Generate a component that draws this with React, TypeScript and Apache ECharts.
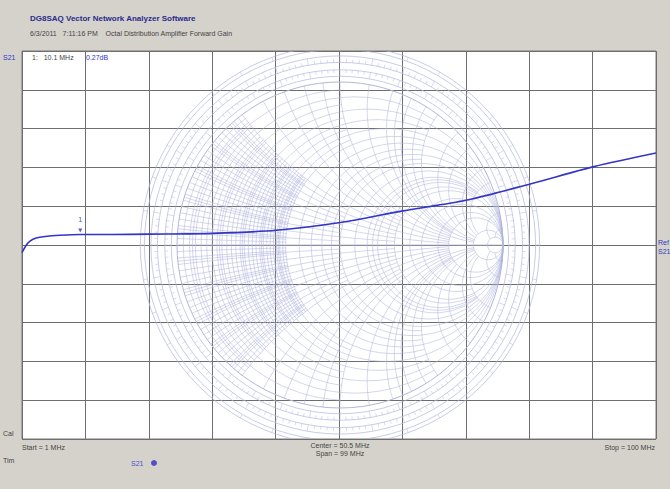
import React, { useEffect, useRef } from "react";
import * as echarts from "echarts";

// Trace: S21 magnitude (dB) vs frequency (MHz)
const freqMHz = [1, 1.6, 2.25, 3.2, 4.6, 6.9, 10.1, 15, 20.8, 30.8, 40.7, 50.7, 60.5, 70.5, 80.5, 90.3, 100];
const gainDb = [-0.2, -0.02, 0.1, 0.18, 0.22, 0.25, 0.27, 0.27, 0.28, 0.3, 0.38, 0.58, 0.88, 1.16, 1.58, 2.02, 2.37];

// marker
const markerFreq = 10.1;
const markerDb = 0.27;

// Smith chart background (printed chart): [value, limit] pairs
// constant-resistance lines: [r, max |x|]  (Infinity = full circle)
const smithR: [number, number][] = [
  [0.2, Infinity], [0.4, Infinity], [0.6, Infinity], [0.8, Infinity], [1, Infinity], [1.5, Infinity], [2, Infinity], [3, Infinity], [4, Infinity], [5, Infinity], [10, Infinity], [20, Infinity],
  [0.1, 2], [0.3, 2], [0.5, 2], [0.7, 2], [0.9, 2],
  [0.05, 1], [0.15, 1], [0.25, 1], [0.35, 1], [0.45, 1],
  [1.2, 5], [1.4, 5], [1.6, 5], [1.8, 5], [2.5, 5],
  [0.02, 0.5], [0.04, 0.5], [0.06, 0.5], [0.08, 0.5], [0.12, 0.5], [0.14, 0.5], [0.16, 0.5], [0.18, 0.5], [0.22, 0.5], [0.24, 0.5], [0.26, 0.5], [0.28, 0.5], [0.32, 0.5], [0.34, 0.5], [0.36, 0.5], [0.38, 0.5], [0.42, 0.5], [0.44, 0.5], [0.46, 0.5], [0.48, 0.5],
];
// constant-reactance lines: [|x|, max r]
const smithX: [number, number][] = [
  [0.2, 5], [0.4, 5], [0.6, 5], [0.8, 5], [1, 10], [1.5, 10], [2, 10], [3, 10], [4, 10], [5, 10], [10, 20], [20, 20],
  [0.1, 2], [0.3, 2], [0.5, 2], [0.7, 2], [0.9, 2],
  [0.05, 1], [0.15, 1], [0.25, 1], [0.35, 1], [0.45, 1],
  [1.2, 5], [1.4, 5], [1.6, 5], [1.8, 5], [2.5, 5],
  [0.02, 0.5], [0.04, 0.5], [0.06, 0.5], [0.08, 0.5], [0.12, 0.5], [0.14, 0.5], [0.16, 0.5], [0.18, 0.5], [0.22, 0.5], [0.24, 0.5], [0.26, 0.5], [0.28, 0.5], [0.32, 0.5], [0.34, 0.5], [0.36, 0.5], [0.38, 0.5], [0.42, 0.5], [0.44, 0.5], [0.46, 0.5], [0.48, 0.5],
];
const smithRings = [1, 1.035, 1.075, 1.12, 1.16, 1.2, 1.225];

const titleText = "DG8SAQ Vector Network Analyzer Software";
const subTitleText = "6/3/2011   7:11:16 PM    Octal Distribution Amplifier Forward Gain";

export default function App() {
  const ref = useRef<HTMLDivElement>(null);
  useEffect(() => {
    document.body.style.margin = "0";
    const chart = echarts.init(ref.current!, null, { renderer: "svg" });
    const L = 22, T = 51, W = 634, H = 388;
    const cx = 340, cy = 245, Rpx = 163;
    const sx0 = -(cx - L) / Rpx, sx1 = (L + W - cx) / Rpx;
    const sy1 = (cy - T) / Rpx, sy0 = -(T + H - cy) / Rpx;
    const smithColor = "#b0b6dc";
    const font = "Liberation Sans";

    const gamma = (r: number, x: number) => {
      const d = (r + 1) * (r + 1) + x * x;
      return [(r * r + x * x - 1) / d, (2 * x) / d];
    };

    const renderSmith = (params: any, api: any) => {
      const c = api.coord([0, 0]);
      const R = api.size([1, 0])[0];
      const P = (g: number[]) => [c[0] + R * g[0], c[1] - R * g[1]];
      const children: any[] = [];
      const st = { stroke: smithColor, fill: "none", lineWidth: 0.55 };
      smithRings.forEach((k, i) => {
        children.push({ type: "circle", shape: { cx: c[0], cy: c[1], r: R * k }, style: { ...st, lineWidth: i === 0 ? 1 : 0.7 } });
      });
      for (let a = 0; a < 360; a += 2) {
        const rad = (a * Math.PI) / 180;
        const seg = (r1: number, r2: number) =>
          children.push({ type: "line", shape: { x1: c[0] + R * r1 * Math.cos(rad), y1: c[1] + R * r1 * Math.sin(rad), x2: c[0] + R * r2 * Math.cos(rad), y2: c[1] + R * r2 * Math.sin(rad) }, style: { stroke: smithColor, lineWidth: 0.5 } });
        seg(a % 10 === 0 ? smithRings[1] : smithRings[2] - 0.02, smithRings[2]);
        seg(smithRings[3], a % 10 === 0 ? smithRings[4] : smithRings[3] + 0.02);
        if (a % 10 === 0) seg(smithRings[5], smithRings[6]);
      }
      children.push({ type: "line", shape: { x1: c[0] - R, y1: c[1], x2: c[0] + R, y2: c[1] }, style: { stroke: smithColor, lineWidth: 0.8 } });
      const N = 48;
      smithR.forEach(([r, xm]) => {
        if (!isFinite(xm)) {
          children.push({ type: "circle", shape: { cx: c[0] + R * (r / (1 + r)), cy: c[1], r: R / (1 + r) }, style: st });
        } else {
          const pts: number[][] = [];
          const pm = Math.atan(xm);
          for (let i = 0; i <= N; i++) {
            const x = Math.tan(-pm + (2 * pm * i) / N);
            pts.push(P(gamma(r, x)));
          }
          children.push({ type: "polyline", shape: { points: pts }, style: st });
        }
      });
      smithX.forEach(([x, rm]) => {
        const pm = Math.atan(rm);
        [1, -1].forEach((s) => {
          const pts: number[][] = [];
          for (let i = 0; i <= N; i++) {
            const r = Math.tan((pm * i) / N);
            pts.push(P(gamma(r, s * x)));
          }
          children.push({ type: "polyline", shape: { points: pts }, style: st });
        });
      });
      return { type: "group", children };
    };

    const txt = (x: number, y: number, text: string, opts: any = {}) => ({
      type: "text",
      x,
      y,
      z: 100,
      style: { text, fill: opts.fill || "#333", font: `${opts.bold ? "bold " : ""}${opts.size || 7}px ${font}`, textAlign: opts.align || "left", textVerticalAlign: "middle" },
    });

    chart.setOption({
      animation: false,
      backgroundColor: "#d5d2cc",
      grid: [
        { left: L, top: T, width: W, height: H, show: true, backgroundColor: "#ffffff", borderColor: "#7a7a7a", borderWidth: 1 },
        { left: L, top: T, width: W, height: H, show: false },
      ],
      xAxis: [
        { type: "value", gridIndex: 0, min: 1, max: 100, show: false },
        { type: "value", gridIndex: 0, min: 0, max: 10, interval: 1, axisLine: { show: false }, axisTick: { show: false }, axisLabel: { show: false }, splitLine: { show: true, lineStyle: { color: "#6e6e6e", width: 1 } } },
        { type: "value", gridIndex: 1, min: sx0, max: sx1, show: false, splitLine: { show: false } },
      ],
      yAxis: [
        { type: "value", gridIndex: 0, min: -5, max: 5, interval: 1, axisLine: { show: false }, axisTick: { show: false }, axisLabel: { show: false }, splitLine: { show: true, lineStyle: { color: "#6e6e6e", width: 1 } } },
        { type: "value", gridIndex: 1, min: sy0, max: sy1, show: false, splitLine: { show: false } },
      ],
      series: [
        { type: "custom", xAxisIndex: 2, yAxisIndex: 1, data: [[0, 0]], renderItem: renderSmith, clip: true, silent: true, z: 1 },
        {
          type: "line",
          xAxisIndex: 0,
          yAxisIndex: 0,
          data: freqMHz.map((f, i) => [f, gainDb[i]]),
          smooth: 0.3,
          showSymbol: false,
          lineStyle: { color: "#3434c8", width: 1.6 },
          z: 5,
        },
        {
          type: "scatter",
          xAxisIndex: 0,
          yAxisIndex: 0,
          data: [[markerFreq, markerDb]],
          symbol: "triangle",
          symbolRotate: 180,
          symbolSize: 4,
          symbolOffset: [0, -4],
          itemStyle: { color: "#3434c8" },
          label: { show: true, formatter: "1", position: "top", distance: 5, color: "#3434c8", fontSize: 8, fontFamily: font },
          z: 6,
        },
      ],
      graphic: [
        txt(30, 18, titleText, { bold: true, fill: "#2a2a8a", size: 8 }),
        txt(30, 33, subTitleText, { fill: "#444" }),
        txt(3, 57, "S21", { fill: "#3434c8" }),
        txt(32, 57, "1:   10.1 MHz", { fill: "#444" }),
        txt(86, 57, "0.27dB", { fill: "#3434c8" }),
        txt(3, 433, "Cal", { fill: "#444" }),
        txt(22, 447, "Start = 1 MHz", { fill: "#444" }),
        txt(340, 445, "Center = 50.5 MHz", { fill: "#444", align: "center" }),
        txt(340, 453, "Span = 99 MHz", { fill: "#444", align: "center" }),
        txt(655, 447, "Stop = 100 MHz", { fill: "#444", align: "right" }),
        txt(3, 460, "Tim", { fill: "#444" }),
        txt(131, 463, "S21", { fill: "#5050c8", size: 7 }),
        { type: "circle", z: 100, shape: { cx: 154, cy: 463, r: 3 }, style: { fill: "#5050c8" } },
        txt(658, 242, "Ref", { fill: "#3434c8" }),
        txt(658, 251, "S21", { fill: "#3434c8" }),
      ],
    });
    return () => chart.dispose();
  }, []);
  return <div ref={ref} style={{ width: 670, height: 489 }} />;
}
